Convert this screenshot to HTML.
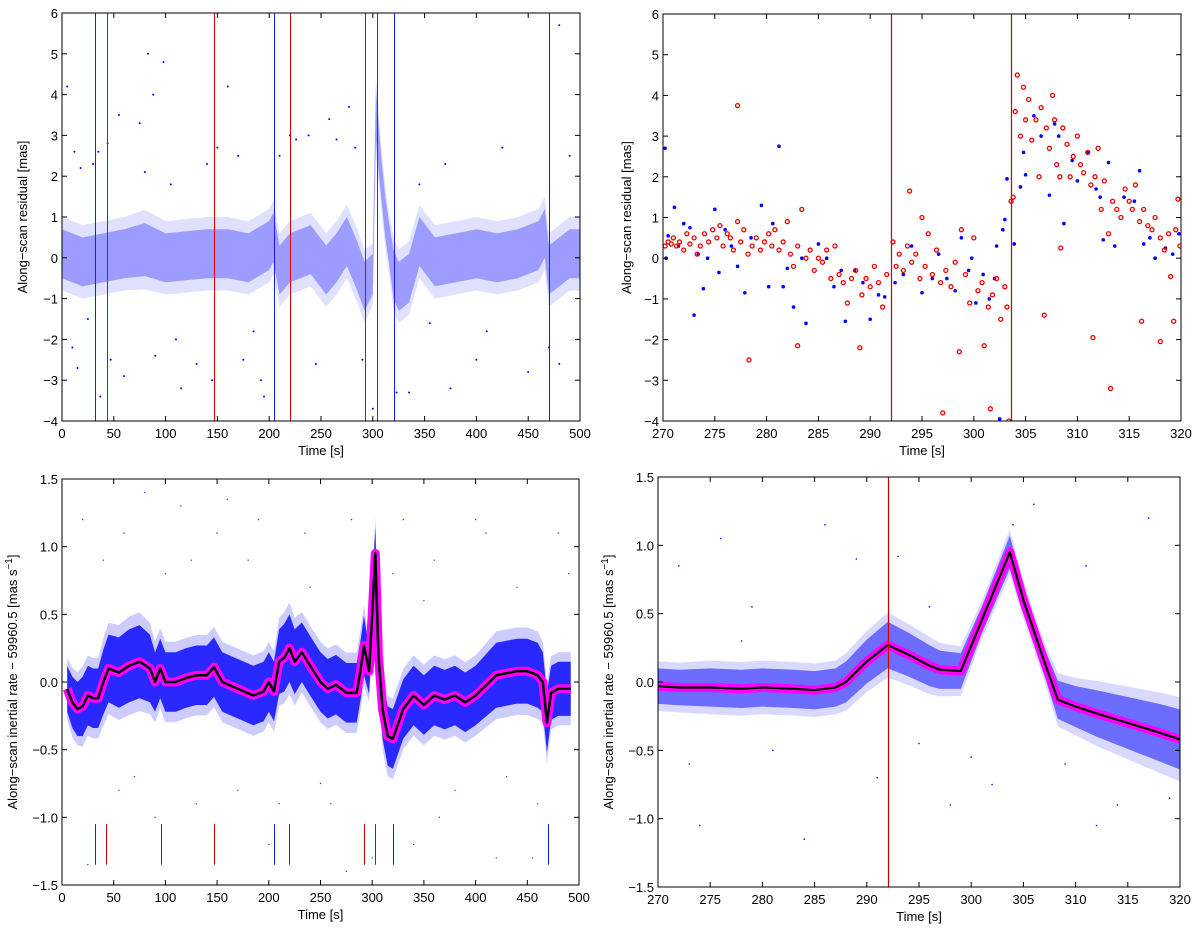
<!DOCTYPE html>
<html><head><meta charset="utf-8"><style>
html,body{margin:0;padding:0;background:#fff;}
svg{display:block;font-family:"Liberation Sans",sans-serif;}
</style></head><body>
<svg id="fig" width="1200" height="930" viewBox="0 0 1200 930" xmlns="http://www.w3.org/2000/svg"></svg>
<script>
// ---------- Panel A (top-left): residual vs time ----------
const aTrendT = [0,10,20,40,60,80,100,120,140,160,180,200,204,210,220,240,255,265,275,285,292,300,303,305,308,312,316,320,325,335,345,360,380,400,420,440,460,466,470,475,490,500];
const aTrendV = [0.1,0.0,-0.1,0.0,0.1,0.2,0.0,0.05,0.1,0.1,0.0,0.3,0.5,-0.3,0.0,0.2,-0.3,0.0,0.4,-0.2,-0.7,-0.4,3.5,2.9,2.0,1.0,0.3,-0.4,-0.7,-0.5,0.4,-0.1,0.0,0.1,0.0,0.1,0.3,0.6,-0.3,-0.2,0.1,0.1];
const aSpread = [0.6,0.6,0.6,0.6,0.6,0.65,0.6,0.6,0.6,0.6,0.6,0.6,0.6,0.6,0.6,0.6,0.6,0.6,0.6,0.6,0.6,0.5,0.6,0.6,0.5,0.5,0.5,0.6,0.6,0.6,0.6,0.6,0.6,0.6,0.6,0.6,0.6,0.6,0.6,0.6,0.6,0.6];
const aOutT = [5,12,18,10,15,25,30,35,37,44,47,55,60,75,80,83,88,90,98,105,110,115,130,140,145,150,160,170,175,185,192,195,210,220,226,238,245,258,265,277,283,290,300,323,335,345,370,375,400,425,450,470,480,490,480,355,410];
const aOutV = [4.2,2.6,2.2,-2.2,-2.7,-1.5,2.3,2.6,-3.4,2.8,-2.5,3.5,-2.9,3.3,2.1,5.0,4.0,-2.4,4.8,1.8,-2.0,-3.2,-2.6,2.3,-3.0,2.7,4.2,2.5,-2.5,-1.8,-3.0,-3.4,2.5,3.0,2.9,3.0,-2.6,3.4,2.9,3.7,2.7,-2.5,-3.7,-3.3,-3.3,1.8,2.3,-3.2,-2.5,2.7,-2.8,-2.2,5.7,2.5,-2.6,-1.6,-1.8];
const aBlueLines = [32,205,320,470];
const aRedLines = [43,147,220,292,304];
const aXTicks = [0,50,100,150,200,250,300,350,400,450,500];
const aYTicks = [-4,-3,-2,-1,0,1,2,3,4,5,6];

// ---------- Panel B (top-right): residual zoom ----------
const bRedT = [270.2,270.5,270.8,271,271.3,271.6,272,272.3,272.6,273,273.3,273.6,274,274.4,274.8,275.2,275.5,275.8,276.2,276.5,276.8,277.2,277.2,277.5,277.8,278.2,278.3,278.6,279,279.4,279.8,280.2,280.5,280.8,281.2,281.6,282,282.3,282.6,283,283,283.4,283.8,284.2,284.6,285,285.4,285.8,286.2,286.6,287,287.4,287.8,288.2,288.6,289,289.2,289.6,290,290.4,290.8,291.2,291.6,292.2,292.5,292.8,293.2,293.6,293.8,294,294.4,294.8,295,295.3,295.6,296,296.4,296.8,297,297.3,297.8,298.2,298.6,298.8,299.2,299.6,300,300.4,300.8,301,301.4,301.6,301.8,302.2,302.6,303,303.2,303.4,303.6,303.8,304,304.2,304.5,304.8,305,305.3,305.6,306,306.3,306.5,306.8,307,307.3,307.6,307.8,308,308.3,308.4,308.6,309,309.3,309.6,310,310.3,310.6,311,311.3,311.5,311.7,312,312.3,312.6,313,313.2,313.4,313.8,314.2,314.6,315,315.3,315.6,316,316.2,316.4,316.8,317.2,317.5,318,318,318.4,318.8,319,319.3,319.5,319.7,319.9];
const bRedV = [0.3,0.4,0.35,0.5,0.3,0.4,0.2,0.6,0.35,0.5,0.1,0.3,0.6,0.4,0.7,0.5,0.8,0.3,0.6,0.5,0.2,0.9,3.75,0.4,0.7,0.1,-2.5,0.3,0.5,0.2,0.4,0.6,0.3,0.7,0.2,0.4,0.9,0.1,-0.2,0.3,-2.15,1.2,0.0,0.2,-0.3,0.0,-0.1,0.2,-0.5,0.3,-0.4,-0.6,-1.1,-0.5,-0.3,-2.2,-0.9,-0.5,-0.7,-0.2,-0.6,-1.2,-0.4,0.4,-0.2,0.1,-0.3,0.3,1.65,-0.1,0.1,-0.5,1.0,-0.2,0.6,-0.4,0.2,-0.6,-3.8,-0.3,-0.7,-0.1,-2.3,0.7,-0.4,-1.1,0.5,-0.8,-0.6,-2.15,-1.2,-3.7,-0.9,-0.5,-1.5,-0.7,-1.2,-4.0,1.4,1.5,3.6,4.5,3.0,4.2,3.4,3.9,2.9,3.4,2.0,3.7,-1.4,3.2,2.7,4.0,3.4,2.3,2.0,0.25,3.2,2.8,2.0,2.5,3.0,2.3,2.1,2.6,1.8,-1.95,2.0,2.7,1.2,1.9,0.6,-3.2,1.4,1.2,1.0,1.7,1.4,1.2,1.8,0.9,-1.55,1.2,0.8,0.7,1.0,0.5,-2.05,0.2,0.6,-0.45,-1.55,0.7,1.45,0.3];
const bBlueT = [270.2,270.5,270.3,271.1,271.5,272,272.6,273,273.4,273.9,274.3,275,275.4,276,276.6,277.2,277.9,278.5,279.5,280.2,280.6,281.2,281.6,282,282.6,283.4,283.8,285,285.8,286.5,287.2,287.6,288.5,289.3,290,290.8,291.4,292.4,293.2,294,295,296,296.6,297.4,298.2,298.8,299.5,299.8,300.2,300.9,301.5,302,302.2,302.5,302.8,303,303.2,303.9,304.5,304.8,305,305.8,306.5,307.3,307.8,308.2,308.7,309.5,310,311,311.8,312.2,312.5,313,313.6,314.5,315.5,316,316.4,317,317.5,318.5,319.2,319.8];
const bBlueV = [2.7,0.55,0.0,1.25,0.3,0.85,0.75,-1.4,0.1,-0.75,0.0,1.2,-0.35,0.7,0.3,-0.2,-0.85,0.5,1.3,-0.7,0.85,2.75,-0.7,-0.25,-1.2,0.0,-1.6,0.35,0.0,-0.7,-0.3,-1.55,-0.3,-0.6,-1.5,-0.9,-0.95,-0.6,-0.4,0.3,-0.85,-0.5,0.1,-0.5,-0.8,0.5,-0.3,0.0,-1.1,-0.4,-1.0,-0.5,0.3,-3.95,0.7,0.95,1.95,0.35,1.75,2.6,2.05,3.5,3.0,1.55,3.3,3.0,0.85,2.4,1.9,2.6,1.7,1.5,0.45,2.35,0.3,1.5,1.4,2.15,0.35,0.5,0.0,0.25,0.1,0.6];
const bRedLines = [292,303.6];
const bXTicks = [270,275,280,285,290,295,300,305,310,315,320];
const bYTicks = [-4,-3,-2,-1,0,1,2,3,4,5,6];

// ---------- Panel C (bottom-left): inertial rate ----------
const cT = [5,10,15,20,25,30,35,40,45,55,65,75,85,90,95,100,110,120,130,140,147,155,170,185,195,200,205,210,215,220,225,232,240,250,257,265,275,285,289,292,297,300,303,306,310,315,320,330,340,350,360,370,380,390,400,420,440,450,460,465,469,473,480,492];
const cMean = [-0.05,-0.15,-0.2,-0.18,-0.1,-0.12,-0.12,0.0,0.1,0.07,0.12,0.15,0.1,0.0,0.1,0.0,0.0,0.03,0.05,0.05,0.11,0.0,-0.05,-0.1,-0.07,0.0,-0.07,0.15,0.18,0.25,0.15,0.22,0.12,0.0,-0.05,-0.02,-0.08,-0.08,0.1,0.27,0.08,0.5,0.95,0.2,-0.2,-0.4,-0.42,-0.2,-0.1,-0.17,-0.1,-0.13,-0.1,-0.15,-0.1,0.05,0.08,0.08,0.05,0.0,-0.3,-0.08,-0.05,-0.05];
const cSpread = [0.17,0.19,0.2,0.22,0.22,0.22,0.22,0.24,0.25,0.26,0.27,0.27,0.25,0.22,0.22,0.22,0.22,0.22,0.22,0.22,0.22,0.22,0.22,0.22,0.22,0.22,0.22,0.24,0.25,0.25,0.24,0.22,0.22,0.22,0.22,0.22,0.22,0.22,0.22,0.22,0.17,0.17,0.2,0.22,0.22,0.22,0.22,0.22,0.22,0.22,0.22,0.22,0.22,0.22,0.22,0.24,0.24,0.24,0.24,0.22,0.22,0.2,0.2,0.2];
const cOutT = [20,40,60,80,100,115,130,150,170,190,210,240,260,280,300,320,340,360,380,400,420,440,460,480,25,55,90,125,160,200,235,275,330,365,410,455,490,70,180,250,350,430];
const cOutV = [1.2,0.9,1.1,1.4,0.8,1.3,-0.9,1.1,-0.8,1.2,-0.9,0.7,-0.9,1.2,-1.3,0.8,-1.2,0.9,-0.8,1.2,-1.3,0.7,-0.9,1.1,-1.35,-0.8,-1.0,0.9,1.35,-1.2,1.1,-1.4,1.2,-1.0,1.1,-1.3,0.8,-0.7,0.9,-0.75,0.6,-0.7];
const cBlueMarks = [32,205,320,470];
const cRedMarks = [43,96,147,220,292,303];
const cXTicks = [0,50,100,150,200,250,300,350,400,450,500];
const cYTicks = [-1.5,-1.0,-0.5,0.0,0.5,1.0,1.5];

// ---------- Panel D (bottom-right): inertial rate zoom ----------
const dT = [270,272,275,278,280,283,285,287,288,290,292,294,296,297,299,301,303.7,305,307,308.3,310,312,315,318,320];
const dMean = [-0.03,-0.04,-0.04,-0.05,-0.04,-0.05,-0.06,-0.04,0.0,0.15,0.27,0.2,0.12,0.09,0.08,0.45,0.95,0.6,0.15,-0.13,-0.18,-0.23,-0.3,-0.37,-0.42];
const dSpread = [0.13,0.13,0.14,0.14,0.14,0.14,0.14,0.14,0.15,0.16,0.17,0.16,0.15,0.14,0.13,0.1,0.12,0.1,0.1,0.14,0.15,0.17,0.19,0.21,0.22];
const dOutT = [272,273,276,278,281,284,286,289,291,293,295,298,300,302,306,309,311,314,317,319,274,279,296,304,312];
const dOutV = [0.85,-0.6,1.05,0.3,-0.5,-1.15,1.15,0.9,-0.7,0.92,-0.45,-0.9,-0.55,-0.75,1.3,-0.6,0.85,-0.9,1.2,-0.85,-1.05,0.55,0.55,1.15,-1.05];
const dRedLines = [292];
const dXTicks = [270,275,280,285,290,295,300,305,310,315,320];
const dYTicks = [-1.5,-1.0,-0.5,0.0,0.5,1.0,1.5];

const NS = 'http://www.w3.org/2000/svg';
const svg = document.getElementById('fig');
function mk(tag, attrs, parent) {
  const e = document.createElementNS(NS, tag);
  for (const k in attrs) e.setAttribute(k, attrs[k]);
  (parent || svg).appendChild(e);
  return e;
}
function makeAxes(id, x0, x1, y0, y1, xmin, xmax, ymin, ymax) {
  const sx = v => x0 + (v - xmin) / (xmax - xmin) * (x1 - x0);
  const sy = v => y1 - (v - ymin) / (ymax - ymin) * (y1 - y0);
  const g = mk('g', {});
  
  
  const cp = mk('clipPath', {id: id + '-clip'}, g);
  mk('rect', {x: x0, y: y0, width: x1 - x0, height: y1 - y0}, cp);
  const plot = mk('g', {'clip-path': 'url(#' + id + '-clip)'}, g);
  
  
  return {sx, sy, g, plot, x0, x1, y0, y1};
}
function frame(ax, id, xt, yt, xfmt, yfmt, xlabel, ylabel, ylx, sup) {
  const {sx, sy, g, x0, x1, y0, y1} = ax;
  const box = mk('rect', {x: x0, y: y0, width: x1 - x0, height: y1 - y0, fill: 'none', stroke: '#000', 'stroke-width': 1}, g);
  
  
  xt.forEach(v => {
    const x = sx(v);
    mk('line', {x1: x, x2: x, y1: y1, y2: y1 - 5, stroke: '#000'}, g);
    mk('line', {x1: x, x2: x, y1: y0, y2: y0 + 5, stroke: '#000'}, g);
    const t = mk('text', {x: x, y: y1 + 17, 'text-anchor': 'middle', 'font-size': 13}, g);
    
    
    t.textContent = xfmt(v);
  });
  yt.forEach(v => {
    const y = sy(v);
    mk('line', {x1: x0, x2: x0 + 5, y1: y, y2: y, stroke: '#000'}, g);
    mk('line', {x1: x1, x2: x1 - 5, y1: y, y2: y, stroke: '#000'}, g);
    const t = mk('text', {x: x0 - 4, y: y + 5, 'text-anchor': 'end', 'font-size': 13}, g);
    
    
    t.textContent = yfmt(v);
  });
  const xl = mk('text', {x: (x0 + x1) / 2, y: y1 + 34, 'text-anchor': 'middle', 'font-size': 13}, g);
  
  
  xl.textContent = xlabel;
  const cy = (y0 + y1) / 2;
  const yl = mk('text', {x: ylx, y: cy, 'text-anchor': 'middle', 'font-size': 13, transform: 'rotate(-90 ' + ylx + ' ' + cy + ')'}, g);
  
  
  yl.textContent = ylabel;
  if (sup) {
    const s = mk('tspan', {'font-size': 10, dy: -5}, yl); s.textContent = '−1';
    const s2 = mk('tspan', {dy: 5}, yl); s2.textContent = ']';
  }
}
function band(ax, T, M, S, fill, op, name) {
  const up = T.map((t, i) => ax.sx(t) + ',' + ax.sy(M[i] + S[i]));
  const lo = T.map((t, i) => ax.sx(t) + ',' + ax.sy(M[i] - S[i])).reverse();
  const p = mk('polygon', {points: up.concat(lo).join(' '), fill: fill, 'fill-opacity': op}, ax.plot);
  
  
}
function scaled(S, f) { return S.map(s => s * f); }
function line(ax, T, M, color, w, name) {
  const p = mk('polyline', {points: T.map((t, i) => ax.sx(t) + ',' + ax.sy(M[i])).join(' '), fill: 'none', stroke: color, 'stroke-width': w, 'stroke-linejoin': 'round'}, ax.plot);
  
  
}
function dots(ax, T, V, r, attrs, name) {
  T.forEach((t, i) => {
    const c = mk('circle', Object.assign({cx: ax.sx(t), cy: ax.sy(V[i]), r: r}, attrs), ax.plot);
    
    
  });
}
function vlines(ax, X, color, ya, yb, name, w) {
  X.forEach(x => {
    const px = Math.round(ax.sx(x)) + 0.5;
    const l = mk('line', {x1: px, x2: px, y1: ya, y2: yb, stroke: color, 'stroke-width': w || 1}, ax.plot);
    
    
  });
}
const f0 = v => (v < 0 ? '−' + (-v) : '' + v);
const f1 = v => (v < 0 ? '−' + (-v).toFixed(1) : v.toFixed(1));

// Panel A
const A = makeAxes('residual-full', 62, 580, 13, 421, 0, 500, -4, 6);
band(A, aTrendT, aTrendV, scaled(aSpread, 1.5), '#0000ff', 0.12, 'residual-outer-cloud');
band(A, aTrendT, aTrendV, aSpread, '#0000ff', 0.3, 'residual-cloud');
dots(A, aOutT, aOutV, 1, {fill: '#0000ff'}, 'residual-outlier');
vlines(A, aBlueLines, '#1a1aff', A.y0, A.y1, 'blue-event-line');
vlines(A, aRedLines, '#dd0000', A.y0, A.y1, 'red-event-line');
frame(A, 'residual-full', aXTicks, aYTicks, f0, f0, 'Time [s]', 'Along−scan residual [mas]', 27);

// Panel B
const B = makeAxes('residual-zoom', 663, 1181, 14, 421, 270, 320, -4, 6);
vlines(B, bRedLines, '#cc0000', B.y0, B.y1, 'red-event-line', 1.2);
dots(B, bBlueT, bBlueV, 1.8, {fill: '#0000ff'}, 'blue-residual-point');
dots(B, bRedT, bRedV, 2, {fill: 'none', stroke: '#ee0000', 'stroke-width': 1.3}, 'red-residual-circle');
frame(B, 'residual-zoom', bXTicks, bYTicks, f0, f0, 'Time [s]', 'Along−scan residual [mas]', 631);

// Panel C
const C = makeAxes('rate-full', 62, 579, 479, 885, 0, 500, -1.5, 1.5);
dots(C, cOutT, cOutV, 0.7, {fill: '#3333ff'}, 'rate-outlier');
band(C, cT, cMean, scaled(cSpread, 1.35), '#0000ff', 0.2, 'rate-outer-cloud');
band(C, cT, cMean, cSpread, '#0000ff', 0.8, 'rate-cloud');
line(C, cT, cMean, '#ff00ff', 9, 'rate-envelope-magenta');
line(C, cT, cMean, '#000000', 2.5, 'rate-smoothed-line');
vlines(C, cBlueMarks, '#1a1aff', C.sy(-1.05), C.sy(-1.35), 'blue-event-mark');
vlines(C, cRedMarks, '#cc0000', C.sy(-1.05), C.sy(-1.35), 'red-event-mark');
frame(C, 'rate-full', cXTicks, cYTicks, f0, f1, 'Time [s]', 'Along−scan inertial rate − 59960.5 [mas s', 17, true);

// Panel D
const D = makeAxes('rate-zoom', 658, 1180, 477, 887, 270, 320, -1.5, 1.5);
dots(D, dOutT, dOutV, 0.8, {fill: '#0000ff'}, 'rate-outlier');
band(D, dT, dMean, scaled(dSpread, 1.4), '#0000ff', 0.15, 'rate-outer-cloud');
band(D, dT, dMean, dSpread, '#0000ff', 0.5, 'rate-cloud');
line(D, dT, dMean, '#ff00ff', 9, 'rate-envelope-magenta');
line(D, dT, dMean, '#000000', 2.2, 'rate-smoothed-line');
vlines(D, dRedLines, '#cc0000', D.y0, D.y1, 'red-event-line', 1.2);
frame(D, 'rate-zoom', dXTicks, dYTicks, f0, f1, 'Time [s]', 'Along−scan inertial rate − 59960.5 [mas s', 613, true);
</script>
</body></html>
